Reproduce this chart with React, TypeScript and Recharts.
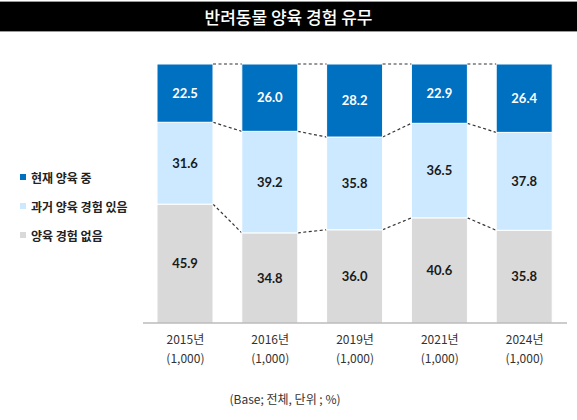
import React from 'react';
import { BarChart, Bar, XAxis, YAxis, LabelList } from 'recharts';

const years = ['2015년', '2016년', '2019년', '2021년', '2024년'];
const bases = ['(1,000)', '(1,000)', '(1,000)', '(1,000)', '(1,000)'];
const current = [22.5, 26.0, 28.2, 22.9, 26.4];
const past = [31.6, 39.2, 35.8, 36.5, 37.8];
const never = [45.9, 34.8, 36.0, 40.6, 35.8];

const seriesNames = { current: '현재 양육 중', past: '과거 양육 경험 있음', none: '양육 경험 없음' };
const colors = { current: '#0070C0', past: '#CCE9FF', none: '#D9D9D9' };
const labelColors = { current: '#FFFFFF', past: '#1A1A1A', none: '#1A1A1A' };

const title = '반려동물 양육 경험 유무';
const footnote = '(Base; 전체, 단위 ; %)';

const data = years.map((y, i) => ({
  year: y,
  base: bases[i],
  none: never[i],
  past: past[i],
  current: current[i],
}));

const tops: Record<string, { x: number; y: number; w: number }[]> = {};

const makeShape = (key: string) => (props: any) => {
  const { x, y, width, height, index, fill } = props;
  if (!tops[key]) tops[key] = [];
  tops[key][index] = { x, y, w: width };
  const prev = index > 0 ? tops[key][index - 1] : undefined;
  return (
    <g>
      <rect x={x} y={y} width={width} height={height} fill={fill} stroke="#FFFFFF" strokeWidth={1} />
      {prev ? (
        <line
          x1={prev.x + prev.w}
          y1={prev.y}
          x2={x}
          y2={y}
          stroke="#333"
          strokeWidth={1.2}
          strokeDasharray="3 2.5"
        />
      ) : null}
    </g>
  );
};

const Tick = (props: any) => {
  const { x, y, payload, index } = props;
  return (
    <text x={x} textAnchor="middle" fill="#333" fontSize={12} fontFamily="'Noto Sans CJK KR', 'Noto Sans', sans-serif">
      <tspan x={x} y={y + 21}>{payload.value}</tspan>
      <tspan x={x} y={y + 40}>{bases[index]}</tspan>
    </text>
  );
};

const fmt = (v: any) => Number(v).toFixed(1);

const legendOrder: ('current' | 'past' | 'none')[] = ['current', 'past', 'none'];

export default function App() {
  return (
    <div style={{ position: 'absolute', left: 0, top: 0, width: 577, height: 420, background: '#fff', fontFamily: "'Noto Sans CJK KR', sans-serif" }}>
      <div
        style={{
          position: 'absolute',
          left: 0,
          top: 1,
          width: 577,
          height: 29,
          background: '#000',
          borderTop: '1px solid #999',
          borderBottom: '1px solid #999',
          color: '#fff',
          fontSize: 17,
          fontWeight: 500,
          lineHeight: '30px',
          textAlign: 'center',
        }}
      >
        {title}
      </div>
      <BarChart
        width={577}
        height={420}
        data={data}
        margin={{ top: 64, right: 10, left: 143, bottom: 47 }}
        style={{ position: 'absolute', left: 0, top: 0 }}
      >
        <XAxis
          dataKey="year"
          height={50}
          tickLine={false}
          tickSize={0}
          tickMargin={0}
          axisLine={{ stroke: '#999', strokeWidth: 1.2 }}
          tick={<Tick />}
          interval={0}
        />
        <YAxis hide domain={[0, 100]} />
        {(['none', 'past', 'current'] as const).map((k) => (
          <Bar key={k} dataKey={k} stackId="a" fill={colors[k]} barSize={56} isAnimationActive={false} shape={makeShape(k)}>
            <LabelList
              dataKey={k}
              position="center"
              formatter={fmt}
              fill={labelColors[k]}
              fontSize={13}
              fontWeight="bold"
              fontFamily="Lato, 'Liberation Sans', sans-serif"
            />
          </Bar>
        ))}
      </BarChart>
      <div style={{ position: 'absolute', left: 20, top: 168 }}>
        {legendOrder.map((k, i) => (
          <div key={k} style={{ position: 'absolute', left: 0, top: i * 29, whiteSpace: 'nowrap', display: 'flex', alignItems: 'center', height: 18 }}>
            <span style={{ display: 'inline-block', width: 6, height: 6, background: colors[k], marginRight: 5 }} />
            <span style={{ fontSize: 12, fontWeight: 700, color: '#222' }}>{seriesNames[k]}</span>
          </div>
        ))}
      </div>
      <div style={{ position: 'absolute', left: 0, width: 570, top: 390, textAlign: 'center', fontSize: 12, color: '#333' }}>
        {footnote}
      </div>
    </div>
  );
}
